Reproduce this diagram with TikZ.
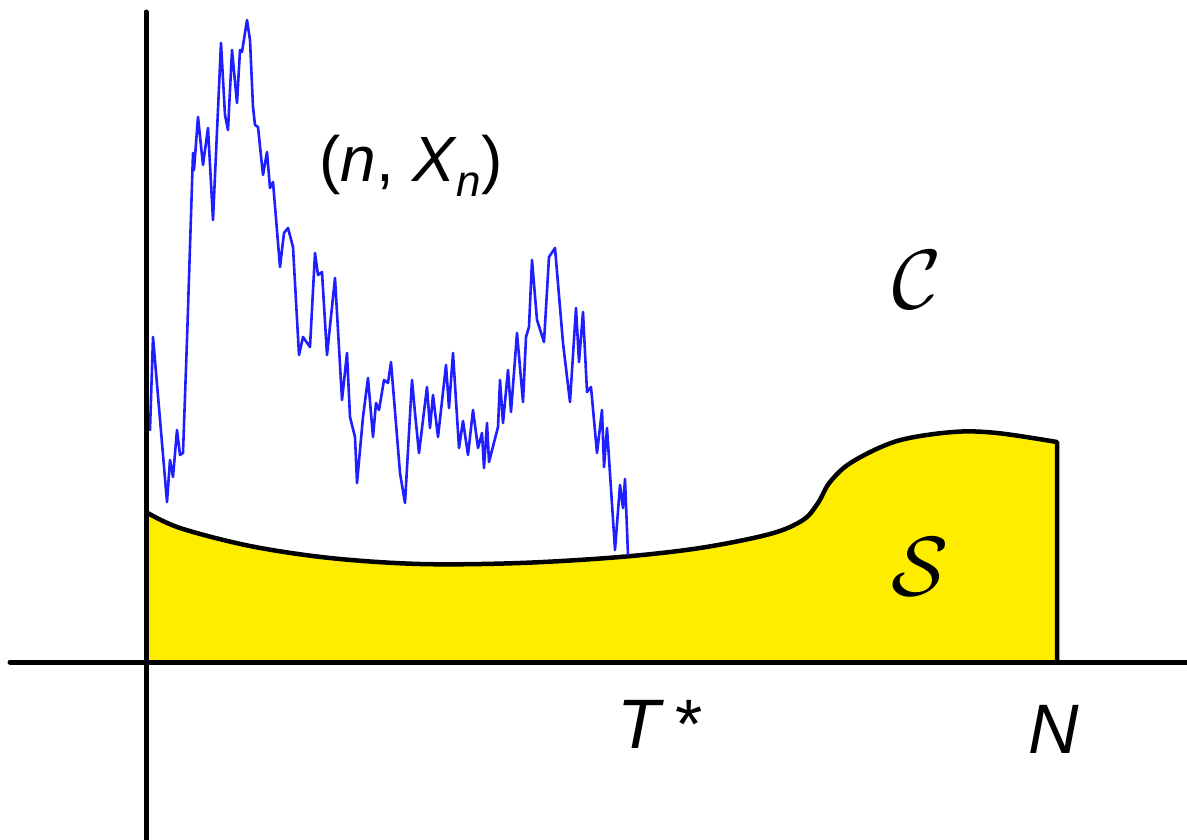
\documentclass[tikz,border=0pt]{standalone}
\usepackage{fontspec}
\setmainfont{Liberation Sans}
\definecolor{sfill}{RGB}{255,237,0}
\definecolor{walk}{RGB}{30,30,255}
\tikzset{
  axis/.style={line width=5pt, line cap=round},
  bound/.style={line width=4.5pt, line join=round},
  walkline/.style={walk, line width=2.6pt, line join=round},
  lab/.style={inner sep=0pt, anchor=base},
}
\begin{document}
\begin{tikzpicture}[x=1pt,y=-1pt]
\useasboundingbox (0,0) rectangle (1187,840);
% stopping set S
\fill[sfill] (146,662) -- plot[smooth, tension=0.55] coordinates {(146,512) (180,528) (250,546) (330,558) (420,564) (520,563) (620,557) (700,548) (770,534) (803,520) (818,503) (830,482) (852,462) (897,441) (953,432) (997,433) (1057,442)} -- (1057,662) -- cycle;
\draw[bound] plot[smooth, tension=0.55] coordinates {(146,512) (180,528) (250,546) (330,558) (420,564) (520,563) (620,557) (700,548) (770,534) (803,520) (818,503) (830,482) (852,462) (897,441) (953,432) (997,433) (1057,442)} -- (1057,662);
% random walk
\draw[walkline] (147,410) -- (150,430) -- (153,337) -- (162,443) -- (167,502) -- (170,460) -- (173,477) -- (177,430) -- (180,455) -- (183,453) -- (187,340) -- (193,153) -- (194,170) -- (198,117) -- (203,165) -- (208,128) -- (213,220) -- (221,43) -- (225,115) -- (228,130) -- (232,50) -- (237,103) -- (240,50) -- (242,52) -- (247,20) -- (250,40) -- (253,107) -- (255,125) -- (258,127) -- (263,175) -- (267,152) -- (270,188) -- (273,182) -- (280,267) -- (284,233) -- (288,228) -- (293,247) -- (299,355) -- (303,337) -- (310,347) -- (315,253) -- (318,275) -- (322,272) -- (327,355) -- (335,278) -- (342,400) -- (347,353) -- (350,417) -- (355,437) -- (357,483) -- (363,417) -- (368,378) -- (373,437) -- (376,403) -- (379,410) -- (384,380) -- (388,383) -- (391,362) -- (400,473) -- (405,503) -- (412,380) -- (415,413) -- (419,453) -- (427,387) -- (430,428) -- (433,395) -- (438,437) -- (446,365) -- (449,408) -- (453,353) -- (459,448) -- (463,421) -- (468,455) -- (473,410) -- (478,448) -- (482,433) -- (484,468) -- (487,423) -- (489,462) -- (498,427) -- (500,380) -- (503,423) -- (508,370) -- (511,412) -- (517,333) -- (523,402) -- (526,337) -- (529,327) -- (532,260) -- (537,320) -- (544,342) -- (549,257) -- (555,248) -- (563,343) -- (570,402) -- (576,308) -- (579,362) -- (583,312) -- (587,392) -- (591,387) -- (597,453) -- (602,410) -- (604,467) -- (607,428) -- (615,550) -- (620,485) -- (623,508) -- (625,479) -- (628,555);
% axes
\draw[axis] (146,12) -- (146,845);
\draw[axis] (10,662) -- (1192,662);
% labels
\node[lab] (pt) at (411,182) {\fontsize{64}{68}\selectfont (\textit{n}, \textit{X}\raisebox{-0.22em}{\fontsize{44}{44}\selectfont\textit{n}})};
\node (C) at (917,280) {\scalebox{8.4}{$\mathcal{C}$}};
\node (S) at (920,567) {\scalebox{8.4}{$\mathcal{S}$}};
\node[lab] (T) at (660,748) {\fontsize{70}{72}\selectfont\textit{T}\,*};
\node[lab] (N) at (1054,753) {\fontsize{70}{72}\selectfont\textit{N}};
\end{tikzpicture}
\end{document}
